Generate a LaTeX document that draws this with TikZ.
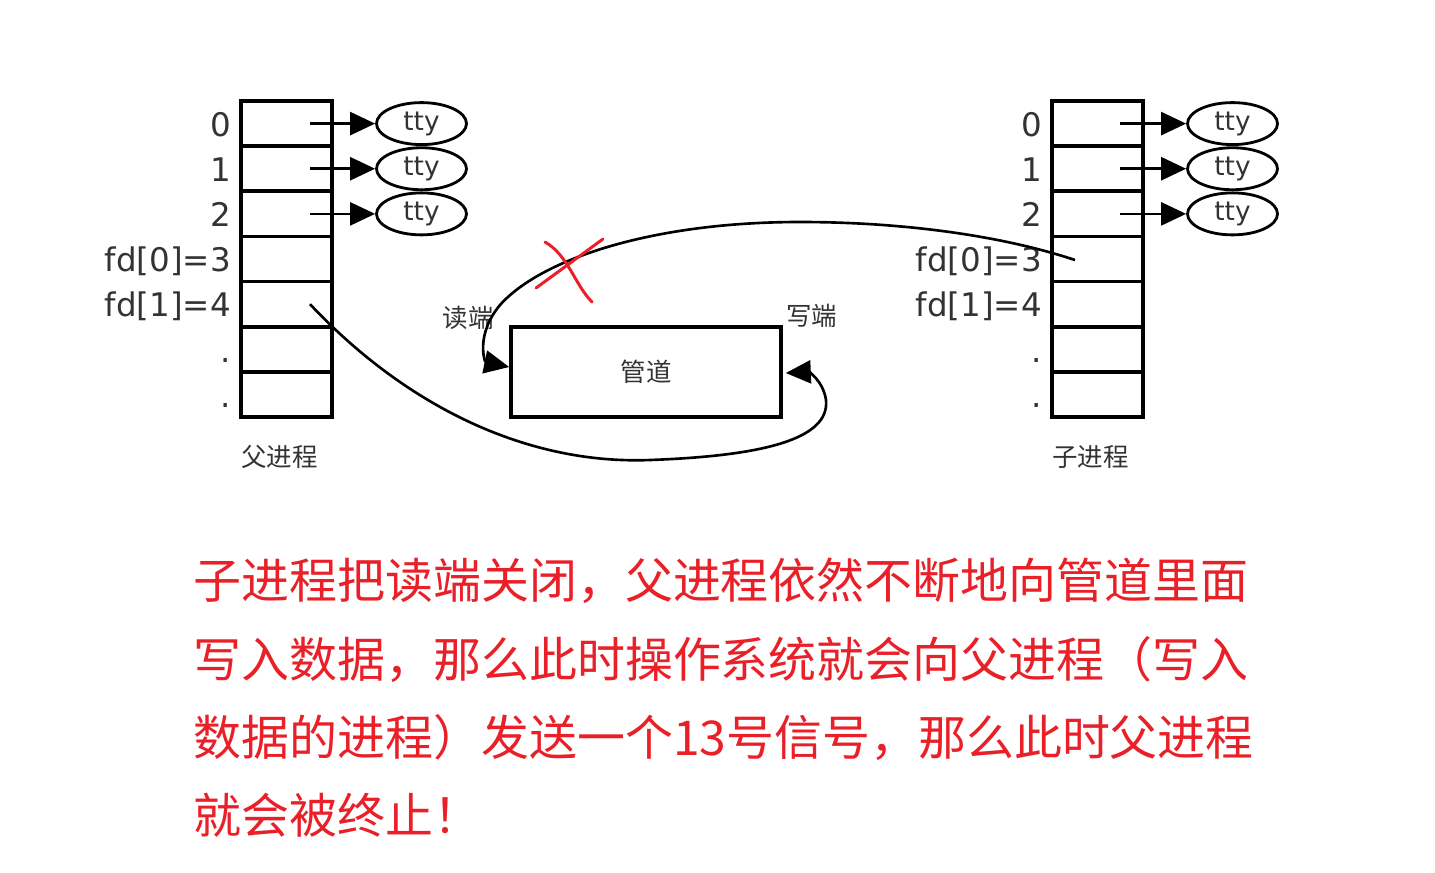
\documentclass[tikz,border=0pt]{standalone}
\usepackage{fontspec}
\setmainfont{DejaVu Sans}
\newfontfamily\cjk{Noto Sans CJK SC}
\usetikzlibrary{arrows.meta,calc,shapes.geometric}
\definecolor{warnred}{RGB}{234,32,40}

\begin{document}
\begin{tikzpicture}[
		x=0.02cm,
		y=-0.02cm,
		>={Triangle[length=0.5cm,width=0.46cm]},
		cell/.style={draw, line width=2.1pt, minimum width=1.82cm, minimum height=0.903cm, inner sep=0pt},
		tty/.style={ellipse, draw, line width=1.6pt, minimum width=1.8cm, minimum height=0.84cm, inner sep=0pt, text=black!80, font=\fontsize{15}{18}\selectfont},
		fdlbl/.style={inner sep=0pt, xshift=-0.16cm, text height=16pt, text depth=1.4pt, text=black!80, font=\fontsize{18.5}{22}\selectfont},
		zh/.style={inner sep=0pt, text=black!80, font=\cjk\fontsize{14.5}{17}\selectfont},
		link/.style={line width=1.5pt},
		note/.style={anchor=west, inner sep=0pt, text=warnred, font=\cjk\fontsize{27.3}{33}\selectfont}
		]
		\useasboundingbox (0,0) rectangle (1435,872);
		
		% descriptor tables of parent and child
		\foreach \i/\lbl in {0/0,1/1,2/2,3/{fd[0]=3},4/{fd[1]=4},5/.,6/.} {
			\node[cell, label={[fdlbl]left:{\lbl}}] (p\i) at (286.5,{123.6+45.14*\i}) {};
			\node[cell, label={[fdlbl]left:{\lbl}}] (c\i) at (1097.5,{123.6+45.14*\i}) {};
		}
		
		% standard streams
		\foreach \i in {0,1,2} {
			\node[tty] (pt\i) at ($(p\i)+(135,0)$) {tty};
			\node[tty] (ct\i) at ($(c\i)+(135,0)$) {tty};
			\draw[->, link] ($(p\i)+(23.5,0)$) -- (pt\i);
			\draw[->, link] ($(c\i)+(22.5,0)$) -- (ct\i);
		}
		
		\node[zh] (pname) at ($(p6.south)+(-7,38)$) {父进程};
		\node[zh] (cname) at ($(c6.south)+(-7,38)$) {子进程};
		
		% the pipe
		\node[draw, line width=2.1pt, minimum width=5.4cm, minimum height=1.8cm, inner sep=0pt] (pipe) at (646,372) {};
		\node[zh] at (pipe) {管道};
		\node[zh] (rd) at ($(pipe.north west)+(-41,-7)$) {读端};
		\node[zh] (wr) at ($(pipe.north east)+(29,-9)$) {写端};
		
		% write end: parent fd[1]
		\draw[->, link] ($(p4)+(23.5,0)$)
		.. controls (400,400) and (520,465) .. (650,460)
		.. controls (760,456) and (830,440) .. (826,400)
		.. controls (823,380) and (808,372) .. ($(pipe.east)+(3,1)$);
		
		% read end: child fd[0]
		\draw[->, link] ($(c3)+(-22.5,1)$)
		.. controls (1000,235) and (900,222) .. (800,222)
		.. controls (650,222) and (540,260) .. (500,305)
		.. controls (475,335) and (485,362) .. ($(pipe.west)+(0,-5)$);
		
		% closed by the child
		\draw[warnred, line width=1.7pt, line cap=round] (545,242) .. controls (568,255) and (575,285) .. (592,302);
		\draw[warnred, line width=1.7pt, line cap=round] (603,239) -- (536,288);
		
		% explanation
		\node[note] (l1) at (193,581) {子进程把读端关闭，父进程依然不断地向管道里面};
		\node[note] (l2) at (193,660) {写入数据，那么此时操作系统就会向父进程（写入};
		\node[note] (l3) at (193,738) {数据的进程）发送一个13号信号，那么此时父进程};
		\node[note] (l4) at (193,815) {就会被终止！};
		
	\end{tikzpicture}
\end{document}
